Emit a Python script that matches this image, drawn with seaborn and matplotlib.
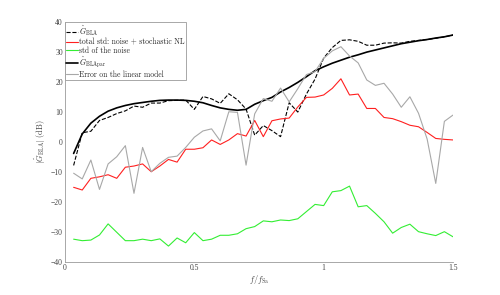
import numpy as np
import pandas as pd
import matplotlib
matplotlib.use('Agg')
import matplotlib.pyplot as plt
import seaborn as sns

# normalised frequency grid f/f_Sa
freq = np.arange(1, 46) / 30

g_bla = [-7.8, 3.1, 3.6, 7.2, 8.2, 9.5, 10.4, 12.0, 11.6, 13.0, 13.0, 13.8, 13.9, 14.0, 10.9,
         15.2, 14.4, 12.9, 16.1, 14.1, 11.0, 2.3, 5.5, 3.8, 1.8, 13.1, 10.0, 16.0, 21.0, 28.0,
         31.5, 33.9, 34.1, 33.6, 32.3, 32.3, 33.0, 33.1, 33.0, 33.6, 33.9, 34.2, 34.6, 35.1, 35.7]
std_total = [-15.1, -16.0, -12.1, -11.6, -10.9, -12.1, -8.4, -8.0, -7.3, -9.9, -8.0, -5.8, -6.7, -2.4, -2.4,
             -1.9, 0.7, -0.8, 0.7, 2.8, 2.0, 7.2, 1.8, 7.1, 7.7, 8.0, 11.7, 14.9, 15.0, 15.7,
             17.9, 21.1, 15.7, 16.0, 11.2, 11.2, 8.2, 7.8, 6.8, 5.6, 5.1, 3.2, 1.2, 0.9, 0.7]
std_noise = [-32.4, -32.9, -32.7, -31.0, -27.3, -30.1, -32.9, -32.9, -32.4, -32.9, -32.3, -34.7, -32.0, -33.6, -30.2,
             -32.9, -32.4, -31.1, -31.1, -30.6, -28.9, -28.2, -26.3, -26.6, -26.0, -26.2, -25.6, -23.2, -20.8, -21.2,
             -16.6, -16.2, -14.7, -21.6, -21.2, -23.8, -26.6, -30.4, -28.5, -27.4, -29.9, -30.6, -31.2, -29.9, -31.6]
g_par = [-3.8, 2.7, 6.3, 8.6, 10.3, 11.4, 12.2, 12.8, 13.2, 13.6, 13.9, 14.0, 14.0, 13.9, 13.6,
         13.1, 12.2, 11.4, 10.9, 10.6, 10.9, 12.6, 13.8, 14.9, 16.7, 18.2, 19.9, 21.8, 23.8, 25.1,
         26.3, 27.3, 28.3, 29.1, 30.0, 30.7, 31.4, 32.1, 32.8, 33.3, 33.8, 34.2, 34.7, 35.1, 35.7]
err_lin = [-10.4, -12.3, -6.0, -15.8, -7.3, -4.9, -1.2, -17.1, -1.8, -9.9, -7.1, -5.1, -4.7, -1.8, 1.6,
           3.7, 4.4, 0.4, 10.1, 9.9, -7.7, 9.4, 14.5, 13.6, 18.0, 13.4, 17.8, 22.5, 23.5, 27.9,
           30.4, 31.8, 28.7, 26.4, 20.7, 18.9, 19.6, 16.0, 11.6, 15.1, 9.6, 1.0, -13.8, 6.9, 9.0]

sns.set_style('white')
plt.rcParams['font.family'] = ['Liberation Serif', 'DejaVu Serif']
plt.rcParams['mathtext.fontset'] = 'cm'

fig = plt.figure(figsize=(5, 2.95), dpi=100)
ax = fig.add_axes([0.13, 0.112, 0.776, 0.813])

sns.lineplot(x=freq, y=g_bla, ax=ax, color='black', lw=0.8, linestyle='--',
             label=r'$\hat{G}_{\mathrm{BLA}}$')
sns.lineplot(x=freq, y=std_total, ax=ax, color='#ff2020', lw=0.8,
             label='total std: noise + stochastic NL')
sns.lineplot(x=freq, y=std_noise, ax=ax, color='#33ee33', lw=0.8,
             label='std of the noise')
sns.lineplot(x=freq, y=g_par, ax=ax, color='black', lw=1.2,
             label=r'$\hat{G}_{\mathrm{BLApar}}$')
sns.lineplot(x=freq, y=err_lin, ax=ax, color='#a8a8a8', lw=0.8,
             label='Error on the linear model')

ax.set_xlim(0, 1.5)
ax.set_ylim(-40, 40)
ax.set_xticks([0, 0.5, 1, 1.5])
ax.set_xticklabels(['0', '0.5', '1', '1.5'])
ax.set_yticks(range(-40, 41, 10))

for s in ['top', 'right']:
    ax.spines[s].set_visible(False)
for s in ['left', 'bottom']:
    ax.spines[s].set_color('#9a9a9a')
    ax.spines[s].set_linewidth(0.6)
ax.tick_params(direction='in', length=2.5, width=0.5, color='#9a9a9a',
               labelsize=5.5, labelcolor='#444444', pad=1.5)

ax.set_xlabel(r'$f/f_{\mathrm{Sa}}$', fontsize=6, color='#444444', labelpad=1)
ax.set_ylabel(r'$|\hat{G}_{\mathrm{BLA}}|\ \mathrm{(dB)}$', fontsize=6, color='#444444', labelpad=2)

leg = ax.legend(loc='upper left', borderaxespad=0, prop={'family': 'cmr10', 'size': 5.5},
                frameon=True, fancybox=False, framealpha=1, edgecolor='#9a9a9a',
                handlelength=1.5, handletextpad=0.2, labelspacing=0.02, borderpad=0.15)
leg.get_frame().set_linewidth(0.6)

fig.savefig('out.png', dpi=100)
